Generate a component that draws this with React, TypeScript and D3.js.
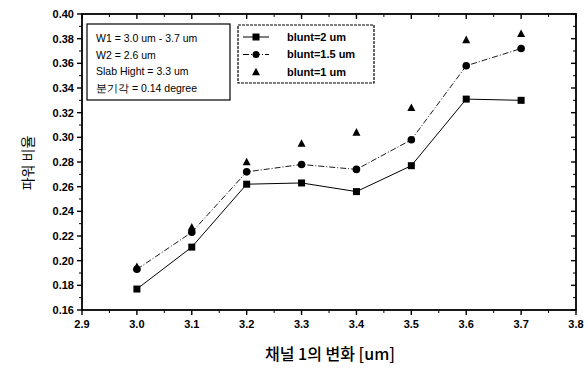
import * as d3 from 'd3';

const xValues = [3.0, 3.1, 3.2, 3.3, 3.4, 3.5, 3.6, 3.7];
const blunt2 = [0.177, 0.211, 0.262, 0.263, 0.256, 0.277, 0.331, 0.330];
const blunt15 = [0.193, 0.223, 0.272, 0.278, 0.274, 0.298, 0.358, 0.372];
const blunt1 = [0.195, 0.227, 0.280, 0.295, 0.304, 0.324, 0.379, 0.384];
const xTicks = [2.9, 3.0, 3.1, 3.2, 3.3, 3.4, 3.5, 3.6, 3.7, 3.8];
const yTicks = [0.16, 0.18, 0.2, 0.22, 0.24, 0.26, 0.28, 0.3, 0.32, 0.34, 0.36, 0.38, 0.4];
const infoLines = ['W1 = 3.0 um - 3.7 um', 'W2 = 2.6 um', 'Slab Hight = 3.3 um', '분기각 = 0.14 degree'];
const legendLabels = ['blunt=2 um', 'blunt=1.5 um', 'blunt=1 um'];

const W = 588;
const H = 371;
const left = 82, right = 576, top = 14, bottom = 310;

export default function App() {
  const x = d3.scaleLinear().domain([2.9, 3.8]).range([left, right]);
  const y = d3.scaleLinear().domain([0.16, 0.4]).range([bottom, top]);

  const line = (vals: number[]) =>
    d3.line<number>().x((_, i) => x(xValues[i])).y(d => y(d))(vals) || '';

  const xMinor = d3.range(2.95, 3.8, 0.1);
  const yMinor = d3.range(0.17, 0.4, 0.02);
  const font = 'Arial, "Liberation Sans", sans-serif';

  const sq = (cx: number, cy: number, s: number, k: string) => (
    <rect key={k} x={cx - s / 2} y={cy - s / 2} width={s} height={s} fill="#000" />
  );
  const tri = (cx: number, cy: number, s: number, k: string) => {
    const h = s * 0.9;
    return (
      <path key={k} d={`M${cx},${cy - h * 0.6} L${cx + s / 2},${cy + h * 0.45} L${cx - s / 2},${cy + h * 0.45} Z`} fill="#000" />
    );
  };

  return (
    <svg width={W} height={H} style={{ position: 'absolute', left: 0, top: 0, background: '#fff' }} fontFamily={font}>
      <rect x={0} y={0} width={W} height={H} fill="#fff" />
      {/* frame */}
      <rect x={left} y={top} width={right - left} height={bottom - top} fill="none" stroke="#000" strokeWidth={1.8} />

      {/* x ticks */}
      {xTicks.map(t => (
        <g key={'xt' + t}>
          <line x1={x(t)} x2={x(t)} y1={bottom} y2={bottom + 5} stroke="#000" strokeWidth={1.4} />
          <line x1={x(t)} x2={x(t)} y1={top} y2={top + 5} stroke="#000" strokeWidth={1.4} />
          <text x={x(t)} y={bottom + 18} textAnchor="middle" fontSize={11} fontWeight="bold">{t.toFixed(1)}</text>
        </g>
      ))}
      {xMinor.map(t => (
        <g key={'xm' + t}>
          <line x1={x(t)} x2={x(t)} y1={bottom} y2={bottom + 3} stroke="#000" />
          <line x1={x(t)} x2={x(t)} y1={top} y2={top + 3} stroke="#000" />
        </g>
      ))}

      {/* y ticks */}
      {yTicks.map(t => (
        <g key={'yt' + t}>
          <line x1={left - 5} x2={left} y1={y(t)} y2={y(t)} stroke="#000" strokeWidth={1.4} />
          <line x1={right - 5} x2={right} y1={y(t)} y2={y(t)} stroke="#000" strokeWidth={1.4} />
          <text x={left - 8} y={y(t)} dy="0.35em" textAnchor="end" fontSize={11} fontWeight="bold">{t.toFixed(2)}</text>
        </g>
      ))}
      {yMinor.map(t => (
        <g key={'ym' + t}>
          <line x1={left - 3} x2={left} y1={y(t)} y2={y(t)} stroke="#000" />
          <line x1={right - 3} x2={right} y1={y(t)} y2={y(t)} stroke="#000" />
        </g>
      ))}

      {/* series */}
      <path d={line(blunt2)} fill="none" stroke="#000" strokeWidth={1} />
      <path d={line(blunt15)} fill="none" stroke="#000" strokeWidth={0.9} strokeDasharray="6,2,1,2" />
      {blunt2.map((v, i) => sq(x(xValues[i]), y(v), 7, 's' + i))}
      {blunt15.map((v, i) => <circle key={'c' + i} cx={x(xValues[i])} cy={y(v)} r={3.8} fill="#000" />)}
      {blunt1.map((v, i) => tri(x(xValues[i]), y(v), 8, 't' + i))}

      {/* info box */}
      <rect x={87} y={24} width={143} height={76} fill="#fff" stroke="#000" strokeWidth={1.2} />
      {infoLines.map((s, i) => (
        <text key={s} x={96} y={42 + i * 16.5} fontSize={10.5}>{s}</text>
      ))}

      {/* legend */}
      <rect x={238} y={25} width={136} height={58} fill="#fff" stroke="#000" strokeWidth={1.2} strokeDasharray="3,1" />
      {legendLabels.map((s, i) => {
        const ly = 37 + i * 17.5;
        return (
          <g key={s}>
            {i === 0 && <line x1={243} x2={269} y1={ly} y2={ly} stroke="#000" />}
            {i === 1 && <line x1={243} x2={269} y1={ly} y2={ly} stroke="#000" strokeDasharray="6,2,1,2" />}
            {i === 0 && sq(256, ly, 7, 'ls')}
            {i === 1 && <circle cx={256} cy={ly} r={3.5} fill="#000" />}
            {i === 2 && tri(256, ly, 8, 'lt')}
            <text x={287} y={ly} dy="0.35em" fontSize={11} fontWeight="bold">{s}</text>
          </g>
        );
      })}

      {/* axis titles */}
      <text x={330} y={360} textAnchor="middle" fontSize={16} fontWeight={500} fontFamily='"Noto Sans CJK KR", sans-serif'>채널 1의 변화 [um]</text>
      <text transform={`translate(33,${163}) rotate(-90)`} textAnchor="middle" fontSize={14} fontFamily='"Noto Sans CJK KR", sans-serif'>파워 비율</text>
    </svg>
  );
}
